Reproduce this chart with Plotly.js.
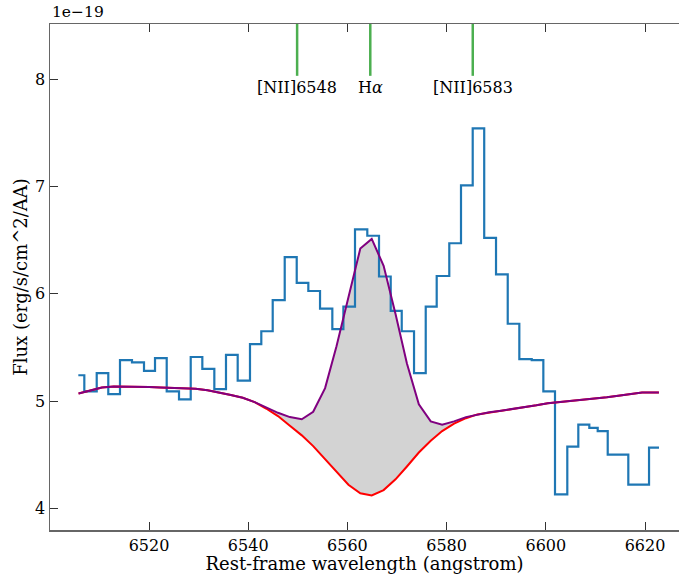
<!DOCTYPE html>
<html>
<head>
<meta charset="utf-8">
<script src="https://cdn.plot.ly/plotly-3.0.1.min.js"></script>
<style>html,body{margin:0;padding:0;background:#fff;}#chart{width:679px;height:574px;}</style>
</head>
<body>
<div id="chart"></div>
<script>
// Observed spectrum (flux in 1e-19 erg/s/cm^2/AA), step left edges (angstrom)
var specEdges = [6505.75, 6506.96, 6509.46, 6511.79, 6514.15, 6516.57, 6518.99, 6521.21, 6523.57, 6526.05,
  6528.41, 6530.75, 6533.17, 6535.52, 6537.88, 6540.36, 6542.64, 6544.94, 6547.36, 6549.78,
  6552.12, 6554.48, 6556.96, 6559.19, 6561.53, 6564.01, 6566.37, 6568.73, 6570.95, 6573.43,
  6575.79, 6578.00, 6580.54, 6582.90, 6585.26, 6587.58, 6589.96, 6592.32, 6594.66, 6597.16,
  6599.50, 6601.85, 6604.33, 6606.55, 6608.77, 6610.46, 6612.48, 6616.63, 6620.81, 6622.82];
var specFlux = [5.24, 5.09, 5.26, 5.065, 5.38, 5.36, 5.28, 5.40, 5.09, 5.015,
  5.41, 5.30, 5.11, 5.43, 5.19, 5.53, 5.65, 5.94, 6.34, 6.10,
  6.025, 5.86, 5.67, 5.88, 6.60, 6.54, 6.16, 5.84, 5.65, 5.26,
  5.88, 6.165, 6.47, 7.01, 7.54, 6.52, 6.18, 5.72, 5.39, 5.38,
  5.09, 4.13, 4.575, 4.78, 4.75, 4.72, 4.50, 4.22, 4.565, 4.565];

// Model (total = continuum + emission), continuum with absorption
var modelWave = [6505.8, 6508.1, 6510.5, 6512.9, 6515.2, 6517.6, 6520.0, 6522.3, 6524.7, 6527.1,
  6529.4, 6531.8, 6534.2, 6536.5, 6538.9, 6541.3, 6543.6, 6546.0, 6548.4, 6550.8,
  6553.1, 6555.5, 6557.8, 6560.2, 6562.6, 6564.9, 6567.3, 6569.7, 6572.0, 6574.4,
  6576.8, 6579.1, 6581.5, 6583.9, 6586.2, 6588.6, 6591.0, 6593.3, 6595.7, 6598.1,
  6600.4, 6602.8, 6605.2, 6607.5, 6609.9, 6612.3, 6614.6, 6617.0, 6619.4, 6622.8];
var modelTotal = [5.07, 5.10, 5.125, 5.135, 5.135, 5.13, 5.13, 5.125, 5.12, 5.12,
  5.115, 5.10, 5.08, 5.055, 5.03, 4.99, 4.94, 4.89, 4.85, 4.83,
  4.90, 5.12, 5.51, 5.97, 6.42, 6.51, 6.26, 5.81, 5.35, 4.97,
  4.81, 4.78, 4.81, 4.85, 4.875, 4.895, 4.91, 4.925, 4.94, 4.96,
  4.98, 4.99, 5.00, 5.01, 5.02, 5.035, 5.05, 5.065, 5.08, 5.08];
var modelCont = [5.07, 5.10, 5.125, 5.135, 5.135, 5.13, 5.13, 5.125, 5.12, 5.12,
  5.115, 5.10, 5.08, 5.055, 5.03, 4.99, 4.93, 4.86, 4.77, 4.68,
  4.58, 4.46, 4.34, 4.22, 4.14, 4.12, 4.17, 4.27, 4.39, 4.52,
  4.63, 4.72, 4.79, 4.84, 4.875, 4.895, 4.91, 4.925, 4.94, 4.96,
  4.98, 4.99, 5.00, 5.01, 5.02, 5.035, 5.05, 5.065, 5.08, 5.08];

// Emission line markers (vacuum wavelengths)
var lineWave = [6549.86, 6564.61, 6585.27];
var lineLabels = ["[NII]6548", "H<i>α</i>", "[NII]6583"];

var font = "DejaVu Serif, serif";

var traces = [
  {x: modelWave, y: modelCont, mode: "lines", line: {width: 0, color: "rgba(0,0,0,0)"}, hoverinfo: "skip", showlegend: false},
  {x: modelWave, y: modelTotal, mode: "lines", fill: "tonexty", fillcolor: "#d3d3d3", line: {width: 0, color: "rgba(0,0,0,0)"}, hoverinfo: "skip", showlegend: false},
  {x: specEdges, y: specFlux, mode: "lines", line: {shape: "hv", color: "#1f77b4", width: 2.2}, showlegend: false},
  {x: modelWave, y: modelCont, mode: "lines", line: {color: "#ff0000", width: 2}, showlegend: false},
  {x: modelWave, y: modelTotal, mode: "lines", line: {color: "#800080", width: 2}, showlegend: false}
];

var shapes = lineWave.map(function (w) {
  return {type: "line", xref: "x", yref: "y", x0: w, x1: w, y0: 8.03, y1: 8.513,
    line: {color: "#4caf50", width: 2.5}};
});
var annotations = lineWave.map(function (w, i) {
  return {x: w, y: 7.92, xref: "x", yref: "y", text: lineLabels[i], showarrow: false,
    xanchor: "center", yanchor: "middle", font: {family: font, size: 16, color: "#000"}};
});
annotations.push({x: 0, y: 1, xref: "paper", yref: "paper", text: "1e−19", showarrow: false,
  xanchor: "left", yanchor: "bottom", yshift: 1, font: {family: font, size: 15.5, color: "#000"}});

var layout = {
  width: 679, height: 574,
  margin: {l: 50, r: 0, t: 24, b: 44, pad: 0},
  paper_bgcolor: "#fff", plot_bgcolor: "#fff",
  font: {family: font, size: 16, color: "#000"},
  showlegend: false,
  xaxis: {
    range: [6500.04, 6626.85], tickvals: [6520, 6540, 6560, 6580, 6600, 6620],
    ticks: "inside", ticklen: 8, tickcolor: "#333", tickwidth: 1,
    showline: true, linecolor: "#666", linewidth: 1.5, mirror: "ticks",
    showgrid: false, zeroline: false,
    tickfont: {family: font, size: 16, color: "#000"},
    title: {text: "Rest-frame wavelength (angstrom)", font: {family: font, size: 18, color: "#000"}, standoff: 1}
  },
  yaxis: {
    range: [3.798, 8.513], tickvals: [4, 5, 6, 7, 8],
    ticks: "inside", ticklen: 8, tickcolor: "#333", tickwidth: 1,
    showline: true, linecolor: "#666", linewidth: 1.5, mirror: false,
    showgrid: false, zeroline: false,
    tickfont: {family: font, size: 16, color: "#000"},
    title: {text: "Flux (erg/s/cm^2/AA)", font: {family: font, size: 18, color: "#000"}, standoff: 3}
  },
  shapes: shapes,
  annotations: annotations
};

Plotly.newPlot("chart", traces, layout, {displayModeBar: false, staticPlot: true});
</script>
</body>
</html>
